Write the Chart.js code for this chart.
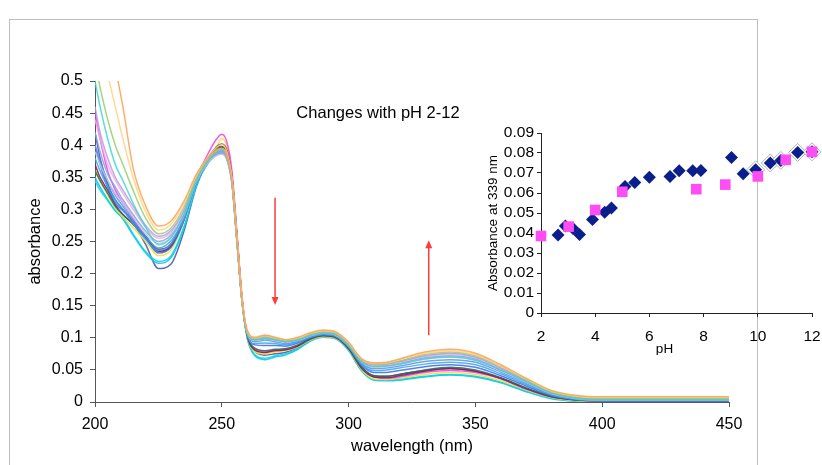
<!DOCTYPE html>
<html>
<head>
<meta charset="utf-8">
<script src="https://cdn.jsdelivr.net/npm/chart.js@4.4.1/dist/chart.umd.min.js"></script>
<style>
  html, body { margin: 0; padding: 0; background: #fff; }
  #wrap { position: relative; width: 822px; height: 465px; overflow: hidden; }
  #mainChart { position: absolute; left: 0; top: 0; }
  #insetChart { position: absolute; left: 470px; top: 115px; }
</style>
</head>
<body>
<div id="wrap">
  <canvas id="mainChart" width="822" height="465"></canvas>
  <canvas id="insetChart" width="352" height="240"></canvas>
</div>
<script>
// --- DADOS: espectros ---
const wavelengths = [200, 202, 205, 208, 211, 215, 220, 225, 230, 235, 240, 245, 248, 250, 252, 254, 256, 258, 260, 263,
  267, 271, 275, 280, 285, 290, 295, 300, 305, 310, 315, 320, 330, 340, 350, 360, 370, 380, 390, 400, 425, 450];

const specOrange = [0.68,0.63,0.57,0.52,0.46,0.365,0.305,0.274,0.282,0.312,0.355,0.383,0.393,0.395,0.385,0.345,0.252,0.158,0.112,0.101,0.104,0.101,0.097,0.101,0.108,0.112,0.109,0.093,0.068,0.061,0.062,0.067,0.078,0.082,0.076,0.058,0.037,0.018,0.01,0.008,0.008,0.008];
const specLightOrange = [0.6,0.56,0.51,0.46,0.41,0.35,0.296,0.268,0.277,0.308,0.353,0.384,0.397,0.401,0.39,0.35,0.256,0.16,0.112,0.1,0.103,0.1,0.097,0.1,0.107,0.111,0.108,0.092,0.067,0.06,0.061,0.066,0.076,0.08,0.074,0.056,0.036,0.017,0.009,0.007,0.007,0.007];
const specGreen = [0.53,0.49,0.44,0.4,0.37,0.33,0.286,0.262,0.271,0.303,0.35,0.381,0.392,0.395,0.385,0.346,0.253,0.158,0.11,0.099,0.102,0.099,0.096,0.099,0.106,0.11,0.107,0.091,0.066,0.059,0.06,0.064,0.074,0.078,0.072,0.055,0.035,0.016,0.008,0.006,0.006,0.006];
const specTurquoise = [0.5,0.46,0.41,0.37,0.345,0.31,0.272,0.245,0.256,0.292,0.346,0.379,0.39,0.393,0.383,0.344,0.251,0.157,0.108,0.097,0.099,0.097,0.094,0.097,0.104,0.108,0.105,0.089,0.063,0.055,0.056,0.059,0.067,0.07,0.065,0.05,0.032,0.014,0.006,0.004,0.004,0.004];
const specLavender = [0.46,0.42,0.38,0.35,0.33,0.305,0.275,0.258,0.267,0.298,0.348,0.378,0.387,0.389,0.38,0.342,0.25,0.157,0.109,0.098,0.101,0.098,0.095,0.098,0.105,0.109,0.106,0.09,0.065,0.058,0.059,0.063,0.072,0.076,0.07,0.053,0.034,0.015,0.007,0.005,0.005,0.005];
const specPink = [0.44,0.41,0.37,0.345,0.325,0.3,0.272,0.255,0.264,0.296,0.348,0.38,0.391,0.394,0.384,0.345,0.252,0.158,0.109,0.099,0.104,0.1,0.096,0.099,0.106,0.11,0.107,0.091,0.065,0.057,0.058,0.062,0.071,0.074,0.069,0.052,0.033,0.015,0.007,0.005,0.005,0.005];
const specLightBlue = [0.42,0.39,0.355,0.335,0.315,0.292,0.266,0.25,0.26,0.292,0.346,0.378,0.389,0.391,0.382,0.343,0.25,0.157,0.108,0.097,0.099,0.097,0.094,0.097,0.104,0.108,0.105,0.089,0.064,0.056,0.057,0.06,0.069,0.072,0.067,0.05,0.032,0.014,0.006,0.004,0.004,0.004];
const specGray = [0.39,0.37,0.345,0.325,0.31,0.288,0.262,0.247,0.257,0.29,0.344,0.375,0.384,0.386,0.377,0.34,0.248,0.156,0.107,0.096,0.098,0.096,0.093,0.096,0.103,0.107,0.104,0.088,0.063,0.055,0.055,0.058,0.067,0.07,0.065,0.049,0.031,0.013,0.005,0.003,0.003,0.003];
const specCornflower = [0.4,0.375,0.345,0.322,0.305,0.283,0.258,0.24,0.251,0.286,0.342,0.376,0.387,0.389,0.38,0.342,0.249,0.156,0.106,0.094,0.096,0.094,0.091,0.095,0.102,0.106,0.103,0.087,0.061,0.052,0.053,0.056,0.063,0.066,0.062,0.047,0.029,0.012,0.005,0.003,0.003,0.003];
const specSky = [0.38,0.36,0.335,0.315,0.3,0.278,0.253,0.236,0.247,0.284,0.34,0.374,0.385,0.387,0.378,0.34,0.248,0.155,0.105,0.091,0.092,0.091,0.089,0.094,0.101,0.105,0.102,0.086,0.059,0.049,0.05,0.053,0.059,0.062,0.058,0.044,0.027,0.011,0.004,0.002,0.002,0.002];
const specBlue = [0.4,0.37,0.335,0.31,0.298,0.282,0.255,0.232,0.241,0.282,0.343,0.378,0.391,0.393,0.383,0.344,0.251,0.157,0.106,0.089,0.088,0.088,0.087,0.092,0.1,0.105,0.102,0.086,0.058,0.046,0.046,0.049,0.055,0.058,0.054,0.041,0.025,0.01,0.004,0.002,0.002,0.002];
const specDarkTeal = [0.36,0.345,0.325,0.305,0.292,0.278,0.258,0.238,0.246,0.287,0.346,0.382,0.396,0.398,0.388,0.348,0.254,0.158,0.105,0.084,0.08,0.082,0.083,0.089,0.099,0.104,0.101,0.084,0.055,0.041,0.04,0.043,0.05,0.054,0.05,0.038,0.022,0.009,0.003,0.002,0.002,0.002];
const specMaroon = [0.37,0.35,0.33,0.307,0.292,0.277,0.257,0.235,0.243,0.284,0.344,0.382,0.398,0.402,0.392,0.35,0.256,0.159,0.104,0.081,0.077,0.08,0.081,0.087,0.098,0.103,0.1,0.083,0.053,0.039,0.038,0.041,0.048,0.052,0.048,0.037,0.021,0.008,0.003,0.002,0.002,0.002];
const specMagenta = [0.45,0.41,0.36,0.33,0.31,0.285,0.258,0.234,0.243,0.286,0.348,0.39,0.41,0.417,0.405,0.36,0.262,0.163,0.106,0.082,0.078,0.081,0.082,0.088,0.1,0.106,0.105,0.089,0.056,0.039,0.037,0.039,0.046,0.049,0.046,0.036,0.02,0.008,0.003,0.002,0.002,0.002];
const specYellow = [0.36,0.345,0.322,0.302,0.288,0.272,0.25,0.228,0.237,0.28,0.342,0.382,0.398,0.41,0.398,0.354,0.258,0.16,0.103,0.079,0.075,0.078,0.08,0.086,0.097,0.102,0.099,0.082,0.051,0.036,0.035,0.037,0.043,0.046,0.043,0.033,0.019,0.007,0.002,0.001,0.001,0.001];
const specCyan = [0.345,0.33,0.314,0.298,0.287,0.262,0.234,0.219,0.228,0.272,0.338,0.378,0.392,0.395,0.385,0.346,0.252,0.157,0.101,0.074,0.068,0.072,0.075,0.083,0.096,0.102,0.099,0.081,0.05,0.035,0.034,0.035,0.04,0.043,0.04,0.031,0.017,0.006,0.002,0.001,0,0];
const specDeepSky = [0.35,0.335,0.315,0.298,0.285,0.26,0.232,0.216,0.225,0.27,0.337,0.376,0.388,0.391,0.382,0.344,0.25,0.156,0.1,0.072,0.066,0.07,0.073,0.082,0.095,0.101,0.098,0.08,0.049,0.034,0.033,0.034,0.039,0.042,0.039,0.03,0.016,0.005,0.001,0,0,0];
const specNavy = [0.42,0.38,0.34,0.315,0.3,0.28,0.245,0.208,0.215,0.265,0.336,0.38,0.394,0.397,0.388,0.35,0.258,0.16,0.104,0.079,0.073,0.075,0.077,0.085,0.097,0.103,0.1,0.083,0.054,0.041,0.04,0.043,0.049,0.052,0.048,0.037,0.02,0.008,0.003,0.002,0.002,0.002];

const spectra = [specOrange, specLightOrange, specGreen, specTurquoise, specLavender, specPink, specLightBlue, specGray,
  specCornflower, specSky, specBlue, specDarkTeal, specMaroon, specMagenta, specYellow, specCyan, specDeepSky, specNavy];
const spectraColors = ['rgba(255,160,80,0.85)', 'rgba(255,210,130,0.85)', 'rgba(150,205,110,0.85)', 'rgba(60,215,205,0.85)',
  'rgba(175,155,230,0.85)', 'rgba(244,170,215,0.85)', 'rgba(120,165,240,0.85)', 'rgba(195,200,205,0.85)',
  'rgba(100,140,230,0.85)', 'rgba(50,165,240,0.85)', 'rgba(55,105,230,0.85)', 'rgba(45,105,95,0.9)',
  'rgba(140,30,70,0.9)', 'rgba(240,60,240,0.85)', 'rgba(240,225,60,0.9)', 'rgba(0,215,240,0.9)',
  'rgba(30,190,230,0.9)', 'rgba(80,90,165,0.9)'];

const xTicks = [200, 250, 300, 350, 400, 450];
const yTicks = [0, 0.05, 0.1, 0.15, 0.2, 0.25, 0.3, 0.35, 0.4, 0.45, 0.5];

// setas (em unidades dos eixos)
const arrowDown = { x: 271, from: 0.318, to: 0.151 };
const arrowUp = { x: 331.6, from: 0.104, to: 0.252 };

// --- DADOS: gráfico pequeno (absorbância a 339 nm) ---
const navyPH = [2.63, 2.9, 3.18, 3.42, 3.9, 4.35, 4.6, 5.1, 5.46, 6.0, 6.76, 7.1, 7.6, 7.9, 9.03, 9.46, 9.92, 10.46, 10.85, 11.47, 12.0];
const navyAbs = [0.039, 0.0435, 0.0423, 0.0393, 0.0468, 0.0504, 0.0525, 0.0632, 0.0652, 0.0679, 0.0683, 0.0711, 0.0711, 0.0713, 0.0778, 0.0696, 0.0716, 0.075, 0.0763, 0.0803, 0.0806];
const pinkPH = [2, 3.02, 4.0, 5.0, 7.73, 8.8, 10.0, 11.03, 12];
const pinkAbs = [0.0385, 0.0432, 0.0515, 0.0606, 0.0619, 0.0642, 0.0683, 0.0766, 0.0806];
const haloPH = [9.92, 10.46, 10.85, 11.47, 12.0];
const haloAbs = [0.0716, 0.075, 0.0763, 0.0803, 0.0806];
const insetXTicks = [2, 4, 6, 8, 10, 12];
const insetYTicks = [0, 0.01, 0.02, 0.03, 0.04, 0.05, 0.06, 0.07, 0.08, 0.09];

const FONT = "'Liberation Sans', Arial, sans-serif";
const fmt = v => String(+v.toFixed(3));
const toPoints = (xs, ys) => xs.map((x, i) => ({ x: x, y: ys[i] }));

// --- PLUGINS ---
const framePlugin = {
    id: 'frame',
    beforeDraw(chart) {
        const ctx = chart.ctx;
        ctx.save();
        ctx.strokeStyle = '#bdbdbd';
        ctx.lineWidth = 1;
        ctx.strokeRect(9.5, 19.5, 748, 460);
        ctx.fillStyle = '#000';
        ctx.font = '16.5px ' + FONT;
        ctx.textAlign = 'center';
        ctx.textBaseline = 'middle';
        ctx.fillText('Changes with pH 2-12', 378, 113);
        ctx.restore();
    }
};

function drawArrow(chart, a) {
    const ctx = chart.ctx;
    const x = chart.scales.x.getPixelForValue(a.x);
    const y0 = chart.scales.y.getPixelForValue(a.from);
    const y1 = chart.scales.y.getPixelForValue(a.to);
    const dir = y1 > y0 ? 1 : -1;
    ctx.save();
    ctx.strokeStyle = '#ff3b3b';
    ctx.fillStyle = '#ff3b3b';
    ctx.lineWidth = 1.5;
    ctx.beginPath();
    ctx.moveTo(x, y0);
    ctx.lineTo(x, y1 - dir * 6);
    ctx.stroke();
    ctx.beginPath();
    ctx.moveTo(x, y1);
    ctx.lineTo(x - 3.5, y1 - dir * 8);
    ctx.lineTo(x + 3.5, y1 - dir * 8);
    ctx.closePath();
    ctx.fill();
    ctx.restore();
}

const arrowsPlugin = {
    id: 'arrows',
    afterDatasetsDraw(chart) {
        drawArrow(chart, arrowDown);
        drawArrow(chart, arrowUp);
    }
};

const phLabelPlugin = {
    id: 'phLabel',
    afterDraw(chart) {
        const ctx = chart.ctx;
        const ca = chart.chartArea;
        ctx.save();
        ctx.fillStyle = '#000';
        ctx.font = '13.5px ' + FONT;
        ctx.textAlign = 'center';
        ctx.textBaseline = 'middle';
        ctx.fillText('pH', (ca.left + ca.right) / 2 - 12, 234);
        ctx.restore();
    }
};

// --- GRÁFICO PRINCIPAL ---
new Chart(document.getElementById('mainChart'), {
    type: 'line',
    data: {
        datasets: spectra.map((s, i) => ({
            data: toPoints(wavelengths, s),
            borderColor: spectraColors[i],
            borderWidth: 1.5,
            pointRadius: 0,
            fill: false,
            cubicInterpolationMode: 'monotone'
        }))
    },
    options: {
        responsive: false,
        animation: false,
        layout: { padding: { left: 22, top: 81, right: 93, bottom: 0 } },
        plugins: { legend: { display: false }, tooltip: { enabled: false } },
        scales: {
            x: {
                type: 'linear', min: 200, max: 450,
                afterBuildTicks: s => { s.ticks = xTicks.map(v => ({ value: v })); },
                afterFit: s => { s.height = 63; s.paddingLeft = 0; s.paddingRight = 0; },
                ticks: { color: '#000', font: { size: 16, family: FONT }, padding: 8, autoSkip: false, maxRotation: 0 },
                grid: { drawOnChartArea: false, tickLength: 5, color: '#555' },
                border: { color: '#555', width: 1 },
                title: { display: true, text: 'wavelength (nm)', color: '#000', font: { size: 16.5, family: FONT }, padding: { top: 2, bottom: 9 } }
            },
            y: {
                min: 0, max: 0.5,
                afterBuildTicks: s => { s.ticks = yTicks.map(v => ({ value: v })); },
                afterFit: s => { s.width = 73; s.paddingTop = 0; s.paddingBottom = 0; },
                ticks: { color: '#000', font: { size: 16, family: FONT }, padding: 7, autoSkip: false, callback: v => fmt(v) },
                grid: { drawOnChartArea: false, tickLength: 5, color: '#555' },
                border: { color: '#555', width: 1 },
                title: { display: true, text: 'absorbance', color: '#000', font: { size: 16.5, family: FONT }, padding: { top: 4, bottom: 0 } }
            }
        }
    },
    plugins: [framePlugin, arrowsPlugin]
});

// --- GRÁFICO PEQUENO ---
new Chart(document.getElementById('insetChart'), {
    type: 'scatter',
    data: {
        datasets: [
            { data: toPoints(pinkPH, pinkAbs), pointStyle: 'rect', pointRadius: 7.5, backgroundColor: '#ff4cf5', borderColor: '#ff4cf5', borderWidth: 0, order: 0, clip: false },
            { data: toPoints(navyPH, navyAbs), pointStyle: 'rectRot', pointRadius: 6.5, backgroundColor: '#0b1f8c', borderColor: '#0b1f8c', borderWidth: 0, order: 1, clip: false },
            { data: toPoints(haloPH, haloAbs), pointStyle: 'rectRot', pointRadius: 9, backgroundColor: '#fff', borderColor: '#b0b0b0', borderWidth: 1, order: 2, clip: false }
        ]
    },
    options: {
        responsive: false,
        animation: false,
        layout: { padding: { left: 8, top: 18, right: 6, bottom: 0 } },
        plugins: { legend: { display: false }, tooltip: { enabled: false } },
        scales: {
            x: {
                type: 'linear', min: 2, max: 12,
                afterBuildTicks: s => { s.ticks = insetXTicks.map(v => ({ value: v })); },
                afterFit: s => { s.height = 42; s.paddingLeft = 0; s.paddingRight = 0; },
                ticks: { color: '#000', font: { size: 15.5, family: FONT }, padding: 10, autoSkip: false, maxRotation: 0 },
                grid: { drawOnChartArea: false, tickLength: 4, color: '#222' },
                border: { color: '#222', width: 1 }
            },
            y: {
                min: 0, max: 0.09,
                afterBuildTicks: s => { s.ticks = insetYTicks.map(v => ({ value: v })); },
                afterFit: s => { s.width = 63; s.paddingTop = 0; s.paddingBottom = 0; },
                ticks: { color: '#000', font: { size: 15.5, family: FONT }, padding: 3, autoSkip: false, callback: v => fmt(v) },
                grid: { drawOnChartArea: false, tickLength: 4, color: '#222' },
                border: { color: '#222', width: 1 },
                title: { display: true, text: 'Absorbance at 339 nm', color: '#000', font: { size: 13.5, family: FONT }, padding: { top: 7, bottom: 0 } }
            }
        }
    },
    plugins: [phLabelPlugin]
});
</script>
</body>
</html>
